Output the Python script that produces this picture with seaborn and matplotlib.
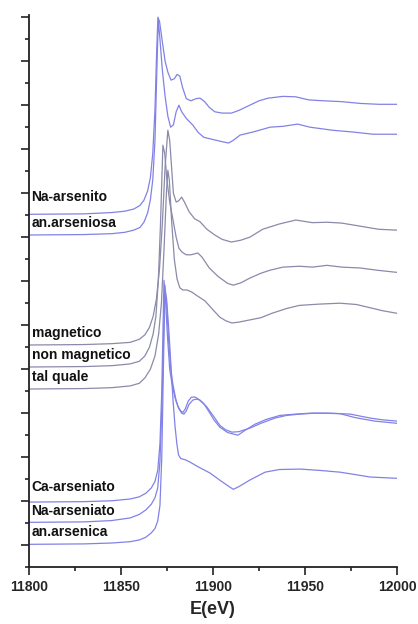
import numpy as np
import pandas as pd
import matplotlib
matplotlib.use("Agg")
import matplotlib.pyplot as plt
import seaborn as sns
from matplotlib.ticker import MultipleLocator

# XANES spectra As K-edge, stacked with offsets
na_arsenito_E = [11800, 11830, 11845, 11852, 11857, 11860.3, 11862.5, 11864.5, 11866, 11867.3,
                 11868.5, 11869.4, 11870.1, 11871, 11872.3, 11874, 11875.5, 11877.2, 11879, 11880.5,
                 11882, 11883.5, 11885.5, 11888, 11891, 11893, 11895.5, 11898, 11901, 11905,
                 11910, 11914, 11920, 11925, 11930, 11938, 11945, 11952, 11960, 11970,
                 11980, 11990, 12000]
na_arsenito_y = [7.52, 7.53, 7.56, 7.59, 7.64, 7.72, 7.84, 8.05, 8.35, 8.9,
                 9.9, 11.2, 12.0, 11.9, 11.5, 11.0, 10.75, 10.57, 10.6, 10.7,
                 10.66, 10.4, 10.15, 10.1, 10.15, 10.16, 10.08, 9.95, 9.85, 9.82,
                 9.82, 9.88, 10.0, 10.1, 10.16, 10.2, 10.19, 10.12, 10.1, 10.08,
                 10.04, 10.02, 10.02]

an_arseniosa_E = [11800, 11830, 11845, 11852, 11857, 11860.3, 11862.5, 11864.5, 11866, 11867.3,
                  11868.5, 11869.4, 11870.3, 11871.2, 11872.5, 11874, 11875.5, 11877, 11878.5, 11880,
                  11881.5, 11883, 11885.5, 11889, 11892, 11895, 11900, 11905, 11908.5, 11911,
                  11914.7, 11921.7, 11931, 11938, 11946, 11952.7, 11965, 11976, 11987, 12000]
an_arseniosa_y = [7.05, 7.06, 7.08, 7.11, 7.16, 7.22, 7.34, 7.55, 7.85, 8.3,
                  9.2, 10.6, 11.95, 11.5, 10.8, 10.2, 9.75, 9.5, 9.55, 9.85,
                  10.0, 9.85, 9.7, 9.55, 9.38, 9.27, 9.22, 9.17, 9.14, 9.2,
                  9.32, 9.39, 9.5, 9.52, 9.57, 9.5, 9.43, 9.39, 9.34, 9.34]

magnetico_E = [11800, 11830, 11845, 11855, 11860, 11863, 11865.5, 11867.5, 11869.3, 11871,
               11872.5, 11874, 11875.5, 11876.5, 11877.5, 11878.5, 11880, 11881.2, 11883, 11884.5,
               11887, 11890, 11893, 11896.7, 11901, 11905, 11910, 11915, 11920, 11927,
               11936, 11945, 11954, 11962, 11970, 11980, 11990, 12000]
magnetico_y = [4.55, 4.56, 4.58, 4.61, 4.68, 4.78, 4.95, 5.2, 5.6, 6.3,
               7.3, 8.6, 9.43, 9.2, 8.6, 8.0, 7.8, 7.82, 7.91, 7.8,
               7.58, 7.42, 7.35, 7.18, 7.05, 6.95, 6.89, 6.93, 7.0, 7.18,
               7.3, 7.39, 7.33, 7.34, 7.32, 7.25, 7.18, 7.16]

non_magnetico_E = [11800, 11830, 11845, 11855, 11860, 11863, 11865.5, 11867.5, 11869, 11870.3,
                   11871.5, 11872.8, 11873.8, 11875, 11876.5, 11878.3, 11880, 11881.5, 11883.2, 11885.5,
                   11888, 11891.8, 11894, 11898, 11903, 11908, 11911, 11915, 11920, 11926,
                   11931, 11938, 11947, 11954, 11962, 11970, 11980, 11989, 12000]
non_magnetico_y = [4.05, 4.06, 4.08, 4.12, 4.18, 4.3, 4.5, 4.8, 5.2, 6.0,
                   7.3, 9.09, 8.9, 8.3, 7.8, 7.39, 7.0, 6.75, 6.66, 6.6,
                   6.6, 6.64, 6.55, 6.3, 6.1, 5.95, 5.91, 5.96, 6.07, 6.18,
                   6.25, 6.32, 6.34, 6.32, 6.36, 6.32, 6.3, 6.25, 6.2]

tal_quale_E = [11800, 11830, 11845, 11855, 11860, 11863, 11866, 11868.5, 11870.5, 11872,
               11873.5, 11874.7, 11875.5, 11876.3, 11877.5, 11879, 11880.5, 11882, 11883.7, 11886,
               11888.6, 11891, 11895.7, 11900, 11903.8, 11907, 11910.3, 11914, 11920, 11926,
               11932, 11940, 11947, 11958, 11969, 11978, 11985, 11992, 12000]
tal_quale_y = [3.55, 3.56, 3.58, 3.62, 3.68, 3.8, 4.0, 4.3, 4.8, 5.5,
               6.8, 8.0, 8.52, 8.3, 7.4, 6.5, 6.05, 5.85, 5.8, 5.8,
               5.75, 5.68, 5.55, 5.35, 5.18, 5.1, 5.05, 5.07, 5.12, 5.17,
               5.27, 5.38, 5.45, 5.48, 5.5, 5.47, 5.4, 5.33, 5.27]

ca_arseniato_E = [11800, 11830, 11845, 11855, 11860, 11863.5, 11866.5, 11868.5, 11870, 11871.2,
                  11872.2, 11872.9, 11873.4, 11874.2, 11875.2, 11876.5, 11877.7, 11879.4, 11881, 11882.5,
                  11883.7, 11885, 11886.5, 11888.2, 11890, 11891.8, 11894, 11896.7, 11900, 11903.8,
                  11907, 11910.3, 11914, 11920, 11926, 11933.7, 11940, 11947.3, 11955, 11963.6,
                  11974.5, 11985.3, 11992, 12000]
ca_arseniato_y = [0.98, 0.99, 1.01, 1.05, 1.1, 1.18, 1.3, 1.45, 1.7, 2.3,
                  3.5, 5.0, 6.02, 5.6, 4.8, 4.0, 3.68, 3.35, 3.15, 3.05,
                  3.02, 3.1, 3.27, 3.36, 3.37, 3.33, 3.25, 3.14, 2.95, 2.72,
                  2.62, 2.57, 2.58, 2.66, 2.77, 2.89, 2.95, 2.98, 3.0, 3.0,
                  2.98, 2.89, 2.85, 2.82]

na_arseniato_E = [11800, 11830, 11845, 11855, 11860, 11863.5, 11866.5, 11868.5, 11870, 11871.2,
                  11872.3, 11873.2, 11873.9, 11874.8, 11876, 11877.2, 11878.3, 11880, 11881.5, 11883,
                  11884.2, 11885.5, 11887, 11889.1, 11891, 11892.9, 11895, 11897.3, 11900.5, 11903.8,
                  11908, 11913.6, 11917, 11922.8, 11929, 11936.4, 11945, 11952.7, 11960, 11969,
                  11977.2, 11988, 12000]
na_arseniato_y = [0.52, 0.53, 0.56, 0.62, 0.7, 0.8, 0.93, 1.08, 1.3, 1.9,
                  3.2, 4.8, 5.91, 5.5, 4.6, 3.95, 3.64, 3.28, 3.1, 3.0,
                  2.98, 3.05, 3.2, 3.3, 3.32, 3.3, 3.22, 3.07, 2.85, 2.68,
                  2.56, 2.5, 2.6, 2.75, 2.86, 2.95, 2.98, 3.0, 3.0, 2.99,
                  2.9, 2.82, 2.77]

an_arsenica_E = [11800, 11830, 11845, 11855, 11860, 11863.5, 11866.5, 11868.5, 11870, 11871.2,
                 11872.2, 11873.2, 11873.9, 11874.8, 11876, 11877.3, 11878.3, 11879.4, 11880.4, 11881.3,
                 11882.5, 11885, 11887.5, 11892, 11898.4, 11904, 11909.2, 11911, 11914, 11920,
                 11928.3, 11936, 11947.3, 11958, 11969, 11978, 11985.3, 12000]
an_arsenica_y = [0.02, 0.03, 0.05, 0.08, 0.12, 0.18, 0.28, 0.38, 0.55, 0.9,
                 2.0, 4.3, 5.8, 5.6, 4.9, 4.0, 3.3, 2.7, 2.3, 2.05,
                 1.97, 1.94, 1.89, 1.78, 1.64, 1.47, 1.32, 1.27, 1.33, 1.48,
                 1.66, 1.72, 1.73, 1.7, 1.66, 1.6, 1.55, 1.52]

labels = ["Na-arsenito", "an.arseniosa", "magnetico", "non magnetico", "tal quale",
          "Ca-arseniato", "Na-arseniato", "an.arsenica"]
label_y = [7.91, 7.32, 4.82, 4.32, 3.82, 1.32, 0.77, 0.3]

blue = "#8282e6"
gray = "#8a8aaa"

spectra = [
    (na_arsenito_E, na_arsenito_y, blue),
    (an_arseniosa_E, an_arseniosa_y, blue),
    (magnetico_E, magnetico_y, gray),
    (non_magnetico_E, non_magnetico_y, gray),
    (tal_quale_E, tal_quale_y, gray),
    (ca_arseniato_E, ca_arseniato_y, blue),
    (na_arseniato_E, na_arseniato_y, blue),
    (an_arsenica_E, an_arsenica_y, blue),
]

sns.set_style("ticks")
plt.rcParams["font.family"] = ["Liberation Sans", "DejaVu Sans"]

fig = plt.figure(figsize=(4.18, 6.24), dpi=100)
ax = fig.add_axes([0.069, 0.091, 0.881, 0.885])

for E, y, c in spectra:
    sns.lineplot(x=E, y=y, color=c, lw=0.9, sort=False, ax=ax)

for lab, ly in zip(labels, label_y):
    ax.text(11801.5, ly, lab, fontsize=10, fontweight="bold", color="#111111",
            va="center", ha="left")

ax.set_xlim(11800, 12000)
ax.set_ylim(-0.5, 12.05)
ax.xaxis.set_major_locator(MultipleLocator(50))
ax.xaxis.set_minor_locator(MultipleLocator(25))
ax.yaxis.set_major_locator(MultipleLocator(1))
ax.yaxis.set_minor_locator(MultipleLocator(0.5))
ax.set_yticklabels([])
ax.tick_params(axis="both", which="major", length=6, width=1.2, color="#222222")
ax.tick_params(axis="both", which="minor", length=3, width=1.2, color="#222222")
ax.tick_params(axis="x", labelsize=10)
for t in ax.get_xticklabels():
    t.set_fontweight("bold")
ax.set_xlabel("E(eV)", fontsize=13, fontweight="bold", labelpad=5)
ax.set_ylabel("")

sns.despine(ax=ax)
for s in ["left", "bottom"]:
    ax.spines[s].set_linewidth(1.3)
    ax.spines[s].set_color("#222222")

fig.savefig("out.png", dpi=100)
